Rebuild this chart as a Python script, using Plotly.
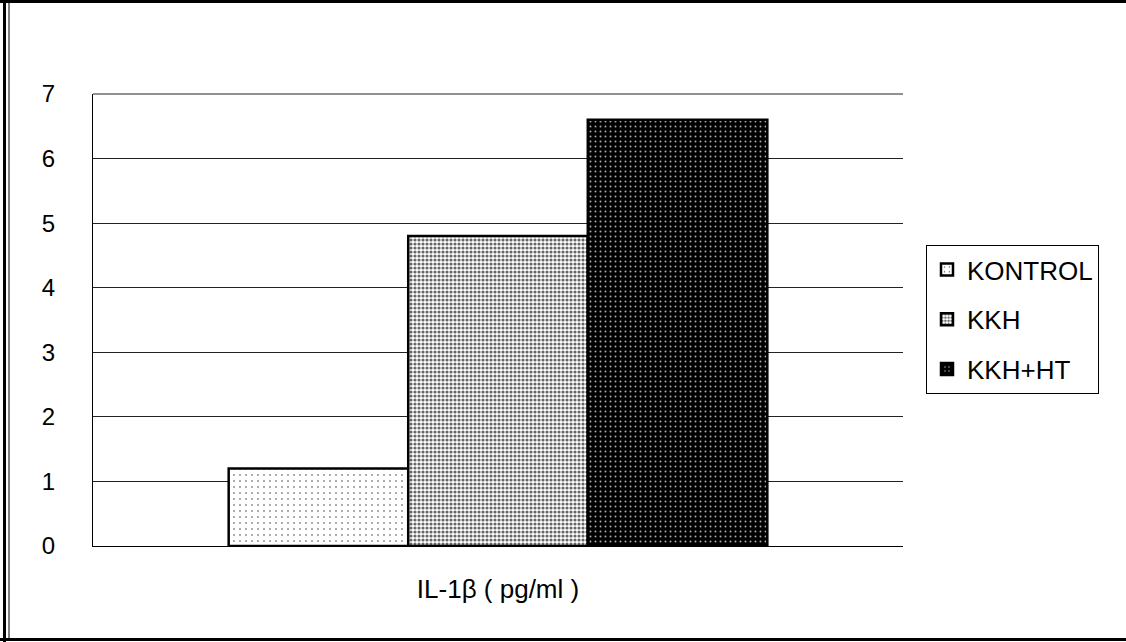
import plotly.graph_objects as go

categories = ["IL-1β ( pg/ml )"]
series_names = ["KONTROL", "KKH", "KKH+HT"]
series_values = [[1.2], [4.8], [6.6]]
y_ticks = [0, 1, 2, 3, 4, 5, 6, 7]

patterns = [
    dict(shape=".", bgcolor="white", fgcolor="#444444", size=6, solidity=0.06, fillmode="replace"),
    dict(shape=".", bgcolor="white", fgcolor="#666666", size=4, solidity=0.5, fillmode="replace"),
    dict(shape=".", bgcolor="black", fgcolor="#aaaaaa", size=5, solidity=0.12, fillmode="replace"),
]

fig = go.Figure()
for name, vals, pat in zip(series_names, series_values, patterns):
    fig.add_trace(go.Bar(
        x=categories, y=vals, name=name, legendgroup=name,
        marker=dict(color=pat["bgcolor"], pattern=pat, line=dict(color="black", width=2.5)),
    ))

W, H = 1126, 642
L, R, T, B = 93, 223, 94, 96
pw, ph = W - L - R, H - T - B

def px(x):
    return (x - L) / pw

def py(y):
    return (H - B - y) / ph

shapes = [
    dict(type="line", xref="paper", yref="paper", x0=px(0), x1=px(W), y0=py(1.5), y1=py(1.5),
         line=dict(color="black", width=3)),
    dict(type="line", xref="paper", yref="paper", x0=px(0), x1=px(W), y0=py(639.5), y1=py(639.5),
         line=dict(color="black", width=3)),
    dict(type="line", xref="paper", yref="paper", x0=px(4.5), x1=px(4.5), y0=py(0), y1=py(H),
         line=dict(color="black", width=3)),
    dict(type="line", xref="paper", yref="paper", x0=px(9), x1=px(9), y0=py(0), y1=py(640),
         line=dict(color="black", width=1)),
    dict(type="line", xref="paper", yref="paper", x0=0, x1=1, y0=1, y1=1,
         line=dict(color="#222222", width=1)),
]

fig.update_layout(
    width=W, height=H,
    margin=dict(l=L, r=R, t=T, b=B),
    paper_bgcolor="white", plot_bgcolor="white",
    font=dict(family="Liberation Sans, Arial, sans-serif", size=24, color="black"),
    barmode="group", bargap=0.335, bargroupgap=0,
    showlegend=True,
    legend=dict(x=px(926), y=py(245), xanchor="left", yanchor="top",
                bordercolor="black", borderwidth=1, bgcolor="white",
                font=dict(size=26), tracegroupgap=13, traceorder="grouped"),
    shapes=shapes,
    xaxis=dict(showline=True, linecolor="black", linewidth=1, showgrid=False,
               ticks="", ticklabelstandoff=20, tickfont=dict(size=26)),
    yaxis=dict(range=[0, 7], tickvals=y_ticks, showline=True, linecolor="black", linewidth=1,
               showgrid=True, gridcolor="#222222", gridwidth=1, zeroline=False,
               ticks="", ticklabelstandoff=32, tickfont=dict(size=24)),
)

fig.write_html("out.html")
